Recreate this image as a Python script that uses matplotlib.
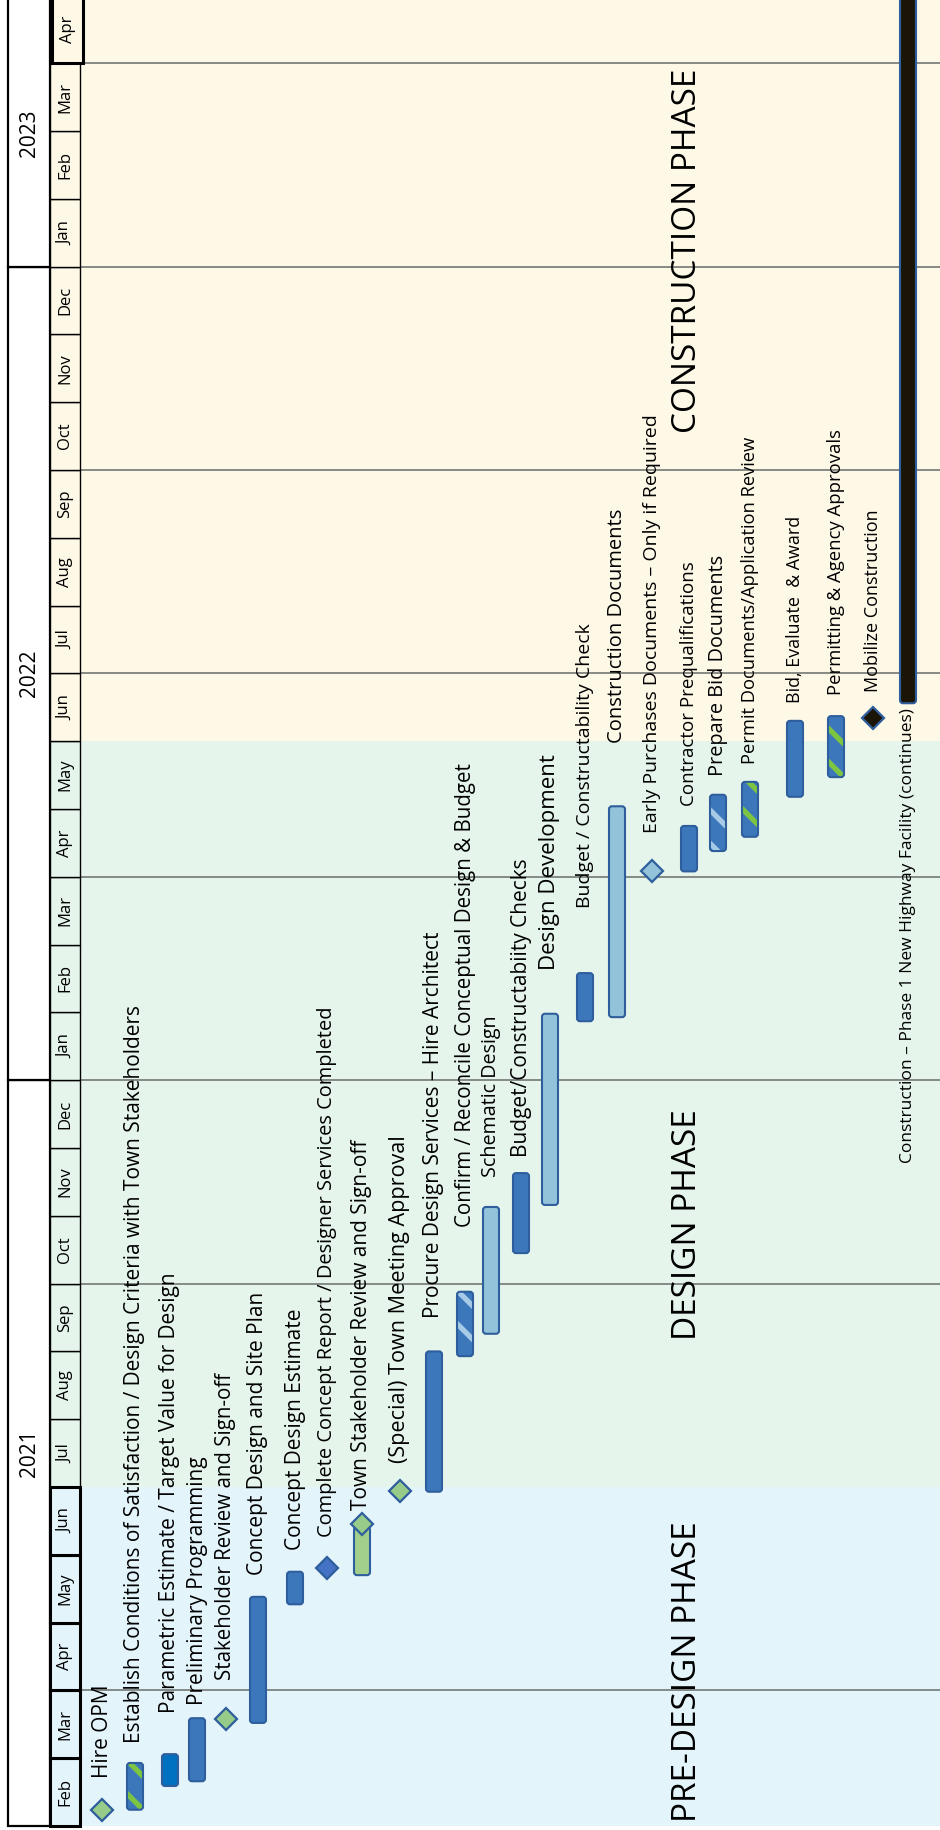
import matplotlib
matplotlib.use("Agg")
import matplotlib.pyplot as plt
from matplotlib.patches import FancyBboxPatch, Rectangle

plt.rcParams["font.family"] = ["Open Sans", "DejaVu Sans"]
plt.rcParams["hatch.linewidth"] = 3.8

# ── Data (months counted from the start of Feb 2021) ──────────────
month_names = ["Feb", "Mar", "Apr", "May", "Jun", "Jul", "Aug", "Sep", "Oct", "Nov", "Dec",
               "Jan", "Feb", "Mar", "Apr", "May", "Jun", "Jul", "Aug", "Sep", "Oct", "Nov", "Dec",
               "Jan", "Feb", "Mar", "Apr"]
year_labels = ["2021", "2022", "2023"]
year_start = [0, 11, 23]
year_end = [11, 23, 27]

phase_labels = ["PRE-DESIGN PHASE", "DESIGN PHASE", "CONSTRUCTION PHASE"]
phase_start = [0, 5, 16]
phase_end = [5, 16, 27]

grid_months = [2, 8, 11, 14, 17, 20, 23, 26]

row_labels = [
    "Hire OPM",
    "Establish Conditions of Satisfaction / Design Criteria with Town Stakeholders",
    "Parametric Estimate / Target Value for Design",
    "Preliminary Programming",
    "Stakeholder Review and Sign-off",
    "Concept Design and Site Plan",
    "Concept Design Estimate",
    "Complete Concept Report / Designer Services Completed",
    "Town Stakeholder Review and Sign-off",
    "(Special) Town Meeting Approval",
    "Procure Design Services – Hire Architect",
    "Confirm / Reconcile Conceptual Design & Budget",
    "Schematic Design",
    "Budget/Constructabiity Checks",
    "Design Development",
    "Budget / Constructability Check",
    "Construction Documents",
    "Early Purchases Documents – Only if Required",
    "Contractor Prequalifications",
    "Prepare Bid Documents",
    "Permit Documents/Application Review",
    "Bid, Evaluate  & Award",
    "Permitting & Agency Approvals",
    "Mobilize Construction",
    "Construction – Phase 1 New Highway Facility (continues)",
]
bar_start = [None, 0.24, 0.59, 0.66, None, 1.52, 3.27, None, 3.70, None, 4.93, 6.93, 7.26,
             8.45, 9.16, 11.87, 11.93, None, 14.08, 14.38, 14.59, 15.18, 15.47, None, 16.56]
bar_end = [None, 0.93, 1.06, 1.59, None, 3.38, 3.75, None, 4.41, None, 7.00, 7.88, 9.13,
           9.63, 11.98, 12.58, 15.04, None, 14.75, 15.21, 15.40, 16.30, 16.37, None, 27.5]
bar_kind = [None, "hatch_green", "bright", "dark", None, "dark", "dark", None, "green", None,
            "dark", "hatch_light", "light", "dark", "light", "dark", "light", None, "dark",
            "hatch_light", "hatch_green", "dark", "hatch_green", None, "black"]
ms_month = [0.24, None, None, None, 1.58, None, None, 3.80, 4.45, 4.94, None, None, None,
            None, None, None, None, 14.09, None, None, None, None, None, 16.34, None]
ms_kind = ["green", None, None, None, "green", None, None, "blue", "green", "green", None, None,
           None, None, None, None, None, "light", None, None, None, None, None, "black", None]

# ── Layout (pixels / points) ──────────────────────────────────────
W, H = 940, 1830
PX_MONTH = 67.8          # pixels per month
Y0 = 1826                # pixel row of the start of Feb 2021
lane_x = [102, 135, 170, 197, 226, 258, 295, 327, 362, 400, 434, 465, 491, 521, 550, 585,
          617, 652, 689, 718, 750, 795, 836, 873, 908]
label_gap = [32, 20, 41, 13, 39, 22, 22, 31, 14, 28, 33, 65, 30, 16, 44, 65, 63, 38, 20, 19,
             18, 18, 21, 26, 5]
label_size = [15, 15, 15, 15, 14.8, 15, 15, 14.4, 15, 15.6, 15, 14.8, 14.2, 15, 16, 14, 14.5,
              14, 13.5, 14.3, 13.2, 12.9, 13.3, 13, 12.5]
phase_text_start = [1822, 1340, 433]

phase_colors = ["#E3F4FB", "#E5F5EC", "#FEF8E7"]
BLUE_EDGE = "#2F5E9C"
bar_face = {"dark": "#3C77BC", "bright": "#0070C0", "light": "#92C3DB", "green": "#A3CF8C",
            "hatch_green": "#3C77BC", "hatch_light": "#3C77BC", "black": "#1B1508"}
hatch_color = {"hatch_green": "#7DC540", "hatch_light": "#A7CBE6"}
ms_face = {"green": "#96CB8A", "blue": "#4472C4", "light": "#92C3DB", "black": "#1B1508"}


def m2y(px):
    return (Y0 - px) / PX_MONTH


fig = plt.figure(figsize=(W / 100, H / 100), dpi=100)
ax = fig.add_axes([0, 0, 1, 1])
ax.set_xlim(0, W)
ax.set_ylim(m2y(H), m2y(0))
ax.axis("off")
aspect = 1 / PX_MONTH

# ── Phase backgrounds ─────────────────────────────────────────────
for lab, s, e, c, ty in zip(phase_labels, phase_start, phase_end, phase_colors, phase_text_start):
    ax.add_patch(Rectangle((80, s), W - 80, e - s, facecolor=c, edgecolor="none", zorder=0))
    ax.text(688, m2y(ty), lab, rotation=90, ha="center", va="bottom", fontsize=24, zorder=5)

# month grid lines
for g in grid_months:
    ax.plot([80, W], [g, g], color="#737873", lw=1.2, zorder=1)

# ── Header: years and months ──────────────────────────────────────
for lab, s, e in zip(year_labels, year_start, year_end):
    ax.add_patch(Rectangle((8, s), 42, e - s, facecolor="white", edgecolor="black",
                           lw=1.6, zorder=2))
    ax.text(29, (s + min(e, m2y(0))) / 2, lab, rotation=90, ha="center", va="center",
            fontsize=15, zorder=3)

last = len(month_names) - 1
for i, name in enumerate(month_names):
    ph = 0 if i < 5 else (1 if i < 16 else 2)
    lw = 2.2 if (ph == 0 or i == last) else 1.0
    x0, wd = (52, 31) if i == last else (50, 30)
    ax.add_patch(Rectangle((x0, i), wd, 1, facecolor=phase_colors[ph], edgecolor="black",
                           lw=lw, zorder=2 if lw < 2 else 3))
    ax.text(x0 + wd / 2, i + 0.5, name, rotation=90, ha="center", va="center",
            fontsize=12, zorder=4)

# ── Bars, milestones and labels ───────────────────────────────────
style = "round,pad=0,rounding_size=3"
for i, lab in enumerate(row_labels):
    x = lane_x[i]
    kind = bar_kind[i]
    if kind is not None:
        s, e = bar_start[i], bar_end[i]
        if kind.startswith("hatch"):
            ax.add_patch(FancyBboxPatch((x - 8, s), 16, e - s, boxstyle=style,
                                        mutation_aspect=aspect, facecolor=bar_face[kind],
                                        edgecolor=hatch_color[kind], hatch="\\", lw=0, zorder=6))
            ax.add_patch(FancyBboxPatch((x - 8, s), 16, e - s, boxstyle=style,
                                        mutation_aspect=aspect, fill=False,
                                        edgecolor=BLUE_EDGE, lw=1.5, zorder=7))
        else:
            ax.add_patch(FancyBboxPatch((x - 8, s), 16, e - s, boxstyle=style,
                                        mutation_aspect=aspect, facecolor=bar_face[kind],
                                        edgecolor=BLUE_EDGE, lw=1.5, zorder=6))
    if ms_month[i] is not None:
        ax.plot([x], [ms_month[i]], marker="D", markersize=11.5, color=ms_face[ms_kind[i]],
                markeredgecolor=BLUE_EDGE, markeredgewidth=1.6, zorder=8)

    if kind == "black":
        # label sits before the bar that runs off the chart
        ax.text(x, bar_start[i] - label_gap[i] / PX_MONTH, lab, rotation=90, ha="center",
                va="top", fontsize=label_size[i], zorder=9)
    else:
        ends = [v for v in (bar_end[i], ms_month[i]) if v is not None]
        ax.text(x, max(ends) + label_gap[i] / PX_MONTH, lab, rotation=90, ha="center",
                va="bottom", fontsize=label_size[i], zorder=9)

fig.savefig("out.png", dpi=100)
